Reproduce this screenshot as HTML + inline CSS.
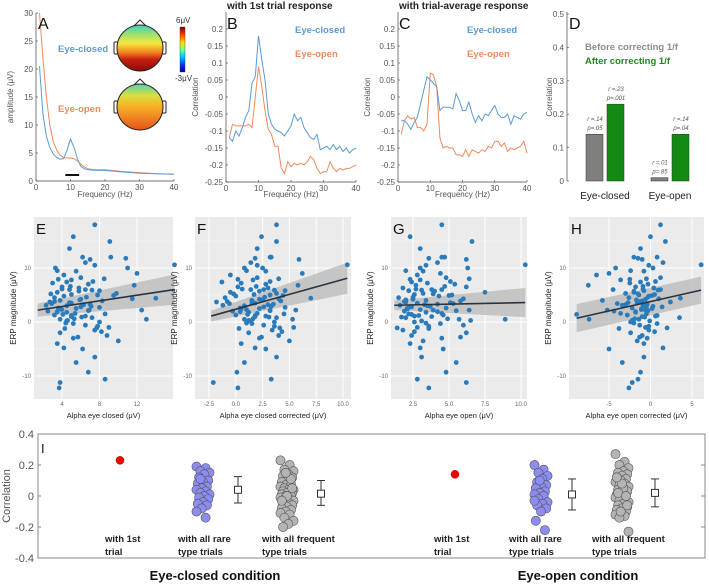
<!DOCTYPE html>
<html><head><meta charset="utf-8">
<style>
html,body{margin:0;padding:0;background:#fff;}
svg{display:block;font-family:"Liberation Sans",Arial,sans-serif;}
.tk{font-size:8px;fill:#555;}
.sm{font-size:6px;fill:#555;}
.bold{font-weight:bold;}
</style></head>
<body>
<svg id="fig" width="709" height="584" viewBox="0 0 709 584" xmlns="http://www.w3.org/2000/svg">
<defs>
<linearGradient id="topo1" x1="0" y1="0" x2="0" y2="1">
<stop offset="0" stop-color="#3fd0c0"/><stop offset="0.2" stop-color="#9be070"/><stop offset="0.4" stop-color="#f6e93a"/><stop offset="0.6" stop-color="#f08020"/><stop offset="0.75" stop-color="#c81e10"/><stop offset="1" stop-color="#8a0a08"/>
</linearGradient>
<linearGradient id="topo2" x1="0" y1="0" x2="0" y2="1">
<stop offset="0" stop-color="#55d0b0"/><stop offset="0.25" stop-color="#d8e040"/><stop offset="0.45" stop-color="#f5b828"/><stop offset="0.7" stop-color="#f08a22"/><stop offset="1" stop-color="#e85018"/>
</linearGradient>
<linearGradient id="jet" x1="0" y1="1" x2="0" y2="0">
<stop offset="0" stop-color="#00008f"/><stop offset="0.15" stop-color="#0030ff"/><stop offset="0.35" stop-color="#00d0ff"/><stop offset="0.5" stop-color="#80ff80"/><stop offset="0.65" stop-color="#ffe000"/><stop offset="0.85" stop-color="#ff3000"/><stop offset="1" stop-color="#800000"/>
</linearGradient>
</defs>
<g id="root"></g>
</svg>
<script>
// ---------- DATA ----------
const freqA = [1,2,3,4,5,6,7,8,9,10,11,12,13,14,15,17,20,25,30,35,40];
const ampClosed = [20.5,12,8,6,4.8,4.2,3.9,4,5.5,7.5,6,4,2.6,2.2,2,1.9,1.9,1.6,1.4,1.3,1.2];
const ampOpen = [30,22,15,10,7,5.5,4.6,4.2,4.1,4.1,4,3.6,3,2.5,2.2,2,2,1.7,1.5,1.3,1.2];
const ticksA_y = [0,5,10,15,20,25,30];
const ticksFreq = [0,10,20,30,40];
const corrB_closed = [-0.12,-0.13,-0.10,-0.115,-0.09,-0.06,-0.04,0.04,0.06,0.18,0.11,0.05,-0.05,-0.08,-0.095,-0.10,-0.105,-0.115,-0.10,-0.085,-0.05,-0.07,-0.06,-0.09,-0.105,-0.12,-0.125,-0.11,-0.155,-0.15,-0.145,-0.155,-0.14,-0.155,-0.145,-0.16,-0.15,-0.165,-0.155,-0.15];
const corrB_open = [-0.12,-0.08,-0.085,-0.085,-0.085,-0.085,-0.08,-0.09,0.0,0.09,0.03,-0.04,-0.095,-0.11,-0.145,-0.145,-0.21,-0.225,-0.19,-0.205,-0.195,-0.20,-0.195,-0.20,-0.19,-0.175,-0.185,-0.21,-0.225,-0.22,-0.22,-0.19,-0.21,-0.22,-0.21,-0.215,-0.21,-0.21,-0.205,-0.20];
const corrC_closed = [-0.07,-0.07,-0.08,-0.095,-0.075,-0.06,-0.02,0.02,0.06,0.05,0.04,0.03,-0.04,-0.03,-0.03,-0.03,-0.035,0.01,-0.01,-0.04,-0.04,-0.015,-0.05,-0.075,-0.055,-0.07,-0.05,-0.055,-0.04,-0.025,-0.05,-0.06,-0.06,-0.05,-0.08,-0.055,-0.06,-0.065,-0.05,-0.045];
const corrC_open = [-0.11,-0.07,-0.055,-0.065,-0.06,-0.09,-0.09,-0.10,-0.08,0.07,0.065,0.03,-0.12,-0.15,-0.145,-0.15,-0.15,-0.17,-0.17,-0.175,-0.155,-0.175,-0.155,-0.16,-0.165,-0.155,-0.16,-0.145,-0.15,-0.13,-0.13,-0.145,-0.135,-0.16,-0.15,-0.155,-0.15,-0.145,-0.13,-0.165];
const ticksCorr = [0.2,0.15,0.1,0.05,0,-0.05,-0.1,-0.15,-0.2,-0.25];
const barCats = ["Eye-closed","Eye-open"];
const barBefore = [0.14,0.01];
const barAfter = [0.23,0.14];
const barBeforeLbl = [["r =.14","p=.05"],["r =.01","p=.85"]];
const barAfterLbl = [["r =.23","p=.001"],["r =.14","p=.04"]];
const ticksD = [0,0.1,0.2,0.3,0.4,0.5];
const erp = [18,15.8,14.9,13.6,12,12,11.8,11.6,11,10.5,10,10,9.5,9.4,9,8.7,8.2,8,7.8,7.5,7.4,7.2,7,6.8,6.5,6.3,6,6,5.8,5.5,5.3,5.1,5,4.8,4.5,4.3,4.2,4,3.9,3.7,3.5,3.3,3.1,3,2.8,2.6,2.5,2.3,2.1,2,1.8,1.5,1.3,1.1,1,0.8,0.5,0.2,0,-0.3,-0.6,-1,-1.2,-1.5,-2,-2.5,-3,-3.5,-4,-4.8,-5,-6.5,-7.5,-9.3,-10.6,-11.2,-12.2,0.5,2.2,4.4,6.1,5.7,4.9,3.8,3.2,2.7,1.9,1.2,0.3,-0.8,5.2,4.6,3.6,2.9,2.4,1.6,0.9,-0.2,-1.8,-2.8,7.9,6.6,5.9,4.1,3.4,2.2,1.4,0.6,-1.1,10.6];
const alphaE = [7.5,5.2,9.1,4.8,6.2,9.2,10.8,7,6.5,7.5,11,3.3,3.5,5.5,12,4.2,6,8.5,5,7.3,4.5,3,6.8,11.7,4,5.8,4.8,6.5,8,3.5,9.8,5,7.8,4.2,3.2,11.5,6,3.8,8.3,2.7,5,7,2.3,4.5,6,3.6,5.5,4,6.8,2.5,4.5,8.6,3.2,6.5,5,7.2,3.8,4.5,8,5.2,6.5,9,4.3,7.5,3.8,8.8,5.2,10,3.5,4.2,6.2,7.5,5.5,6.8,8.6,3.8,3.7,13,12.5,14,4,5.8,9.5,3.2,6.3,8,3.5,5,4.6,7.8,2.8,6.6,4.8,7.1,3.9,5.4,6.1,4.4,8.2,5.7,3.6,4.9,7.2,5.9,2.9,6.9,4.1,5.3,7.7,16];
const alphaF = [3.8,2.4,3.8,2,3.2,3.3,1.8,5.9,1.4,2,2.5,0.8,1,2.8,6.2,-0.5,2,4,1.6,3.2,-1.3,0.5,2.8,5.8,0.2,3,1.4,2.6,4.6,-0.5,3.8,1.7,3.2,0,-1,4,2.2,1.5,4.2,-1.8,1.8,3.5,-1.2,0.8,2.6,0.4,2.2,1,3.2,-0.3,1.2,4.5,0,2.8,1.8,3.8,0.8,1.4,3.6,1.5,2.6,5.4,0.3,3.4,1.2,4,2.2,5,0.5,1.8,2.8,3.8,0.8,0.1,3.3,-2.1,0.2,5.3,5.6,7,0.6,2.2,4.4,-0.8,3,4.6,0.4,1.8,1.2,3.6,-0.2,2.7,1.5,3.3,0.5,2,3.1,1,4.3,2.4,0.2,1.9,3.6,2.5,-0.6,3.2,1.1,1.6,4.1,10.4];
const alphaG = [4.5,2.3,6.6,3,4.5,4.7,3.6,6.2,4.2,3.4,3,6.3,2,3.2,4.4,2.8,4.8,6.4,3,5.1,2.4,3.5,5.4,2.7,6.2,1.8,3.8,4.5,2.2,7.5,3.2,2.6,5.2,4.3,1.5,6,2.5,3.4,5.8,2,2.8,4.2,1.6,3.5,2.4,4.8,2.1,3,5.5,1.9,3.4,2.2,4.6,2.6,3.8,2,5.7,3.1,2.6,4.4,6,2.8,3.6,1.8,6.2,2.4,4.5,3.2,2.3,3,4.6,3.1,5.5,4.8,2.8,6.2,3.6,8.9,6.4,2.5,2.7,4,5,1.9,3.3,2.2,4.2,2.9,6.5,3.6,3.9,2.5,5.1,3.7,2.1,4.5,1.7,3.4,2.6,5.8,2.3,4.7,3.1,2,5.3,3.9,2.4,4.9,1.4,10.3];
const alphaH = [1.2,0,1.8,-1.2,-2,0.8,-1.5,-1,1.5,-0.2,-4.2,0.3,-2.4,-0.8,-5,-6.5,1.2,-0.5,-3.6,0.6,-1.2,-2.5,-0.3,-7.5,-1.8,0.4,-4.5,1.2,-0.8,-2,-3,0.5,-1.4,-0.2,-2.6,1,-0.6,-5.8,-1,2.4,-1.6,-0.4,-3.4,-0.9,1.4,-2.2,0.2,-1.1,-0.3,-4.4,-1.8,-0.5,-2.8,0.6,-1,3.5,-1.4,-0.1,-2.4,0.8,-1.3,-0.6,-3.8,-0.2,-2.4,-1,-0.4,-1.6,-0.8,1.5,-5,-0.8,-3.4,-1.2,-1.5,-2.2,-2.6,-7.4,-5.2,3.6,-0.9,-2,0.2,-1.4,-3,-0.5,-1.8,0.8,-2.2,-0.2,-1.5,-0.3,-2.7,0.3,-1.1,-3.6,-0.7,-2,0.5,-1.3,-2.5,-0.9,0.9,-1.7,-4,-0.6,-8.9,-1.9,2,6.1];
const fitE = [1.4,16,2.2,6.0,1.2,2.8];   // x0,x1,y0,y1,ci0,ci1
const fitF = [-2.3,10.4,1.1,8.1,1.0,2.9];
const fitG = [1.2,10.3,3.1,3.6,0.9,2.7];
const fitH = [-8.9,6.1,0.7,5.9,2.6,2.5];
const ticksE = [4,8,12], ticksF=[-2.5,0,2.5,5,7.5,10], ticksG=[2.5,5,7.5,10], ticksH=[-5,0,5];
const ticksERP = [10,0,-10];
const iRedClosed = 0.23, iRedOpen = 0.14;
const iRareClosed = [0.19,0.18,0.16,0.15,0.14,0.12,0.1,0.09,0.08,0.06,0.05,0.04,0.03,0.02,0.01,0,-0.01,-0.02,-0.04,-0.05,-0.06,-0.08,-0.1,-0.14,0.11];
const iFreqClosed = [0.23,0.2,0.17,0.16,0.14,0.13,0.12,0.1,0.09,0.08,0.07,0.06,0.06,0.05,0.04,0.04,0.03,0.02,0.02,0.01,0,0,-0.01,-0.02,-0.02,-0.03,-0.04,-0.05,-0.06,-0.07,-0.08,-0.09,-0.1,-0.11,-0.12,-0.14,-0.16,-0.18,-0.2,0.05,0.0,-0.03,0.11,0.15];
const iRareOpen = [0.2,0.17,0.15,0.13,0.11,0.09,0.07,0.06,0.05,0.03,0.02,0.01,0,-0.02,-0.04,-0.05,-0.06,-0.08,-0.1,-0.16,-0.22,0.1,-0.03];
const iFreqOpen = [0.27,0.22,0.2,0.18,0.16,0.15,0.14,0.13,0.12,0.11,0.1,0.09,0.08,0.07,0.06,0.05,0.04,0.03,0.02,0.01,0,0,-0.01,-0.02,-0.03,-0.04,-0.05,-0.06,-0.07,-0.08,-0.09,-0.1,-0.11,-0.12,-0.13,-0.14,-0.23,0.05,0.02,-0.06,0.08,0.12,0.0,-0.1];
const iMeans = [0.04,0.015,0.01,0.02];
const iLo = [-0.045,-0.06,-0.09,-0.07];
const iHi = [0.125,0.10,0.11,0.11];
const ticksI = [0.4,0.2,0,-0.2,-0.4];

// ---------- HELPERS ----------
const NS="http://www.w3.org/2000/svg";
const root=document.getElementById('root');
function mk(tag,attrs,parent,txt){const e=document.createElementNS(NS,tag);for(const k in attrs)e.setAttribute(k,attrs[k]);if(txt!==undefined)e.textContent=txt;(parent||root).appendChild(e);return e;}
function lin(d0,d1,r0,r1){return v=>r0+(v-d0)*(r1-r0)/(d1-d0);}
function fmt(v){if(v===0)return "0";return String(Math.round(v*100)/100);}
function grp(name){const g=mk('g',{},root);return g;}
function txt(parent,x,y,s,attrs,name){const t=mk('text',Object.assign({x:x,y:y},attrs||{}),parent,s);return t;}

function lineAxes(g,X,Y,x0,x1,y0,y1,xt,yt){
  mk('line',{x1:x0,y1:y1,x2:x1,y2:y1,stroke:'#444','stroke-width':0.7},g);
  mk('line',{x1:x0,y1:y0,x2:x0,y2:y1,stroke:'#444','stroke-width':0.7},g);
  xt.forEach(v=>{const x=X(v);mk('line',{x1:x,y1:y1,x2:x,y2:y1-2,stroke:'#444','stroke-width':0.6},g);txt(g,x,y1+9,fmt(v),{class:'tk','text-anchor':'middle'},'x-tick-label');});
  yt.forEach(v=>{const y=Y(v);mk('line',{x1:x0,y1:y,x2:x0+2,y2:y,stroke:'#444','stroke-width':0.6},g);txt(g,x0-3,y+3,fmt(v),{class:'tk','text-anchor':'end'},'y-tick-label');});
}
function poly(g,xs,ys,X,Y,color,name){
  const d=xs.map((x,i)=>(i?'L':'M')+X(x).toFixed(1)+','+Y(ys[i]).toFixed(1)).join(' ');
  const p=mk('path',{d:d,fill:'none',stroke:color,'stroke-width':1},g);
  
}
const BLUE='#5b9bd5',ORANGE='#ee8a5e';

// ---------- PANEL A ----------
(function(){
 const g=grp('panel-a');
 const X=lin(0,40,36,174),Y=lin(0,30,181,13);
 lineAxes(g,X,Y,36,174,13,181,ticksFreq,ticksA_y);
 poly(g,freqA,ampOpen,X,Y,ORANGE,'eye-open-spectrum');
 poly(g,freqA,ampClosed,X,Y,BLUE,'eye-closed-spectrum');
 mk('line',{x1:X(8.5),x2:X(12.5),y1:175,y2:175,stroke:'#111','stroke-width':2},g);
 txt(g,105,197,'Frequency (Hz)',{class:'tk','text-anchor':'middle'},'x-axis-title');
 txt(g,13,97,'amplitude (μV)',{class:'tk','text-anchor':'middle',transform:'rotate(-90 13 97)'},'y-axis-title');
 txt(g,38,29,'A',{'font-size':16,fill:'#111'},'panel-letter');
 txt(g,58,52,'Eye-closed',{'font-size':9.5,'font-weight':'bold',fill:BLUE},'legend-eye-closed');
 txt(g,58,112,'Eye-open',{'font-size':9.5,'font-weight':'bold',fill:ORANGE},'legend-eye-open');
 [[48,'url(#topo1)','topomap-eye-closed'],[107,'url(#topo2)','topomap-eye-open']].forEach(([cy,f,n])=>{
   const h=mk('g',{},g);
   mk('path',{d:`M134,${cy-22} L140,${cy-28} L146,${cy-22}`,fill:'#fff',stroke:'#222','stroke-width':1},h);
   mk('rect',{x:114,y:cy-6,width:4,height:12,rx:1,fill:'#fff',stroke:'#222','stroke-width':1},h);
   mk('rect',{x:162,y:cy-6,width:4,height:12,rx:1,fill:'#fff',stroke:'#222','stroke-width':1},h);
   mk('circle',{cx:140,cy:cy,r:23,fill:f,stroke:'#222','stroke-width':1},h);
 });
 const cb=mk('rect',{x:180,y:27,width:5,height:45,fill:'url(#jet)',stroke:'#333','stroke-width':0.4},g);
 
 txt(g,176,23,'6μV',{'font-size':8,fill:'#333'},'colorbar-max');
 txt(g,175,81,'-3μV',{'font-size':8,fill:'#333'},'colorbar-min');
})();

// ---------- PANELS B & C ----------
function corrPanel(name,x0,x1,title,letter,cl,op){
 const g=grp(name);
 const X=lin(0,40,x0,x1),Y=lin(0.2,-0.25,29,182);
 lineAxes(g,X,Y,x0,x1,12,182,ticksFreq,ticksCorr);
 const fr=cl.map((_,i)=>i+1);
 poly(g,fr,op,X,Y,ORANGE,'eye-open-line');
 poly(g,fr,cl,X,Y,BLUE,'eye-closed-line');
 txt(g,(x0+x1)/2,197,'Frequency (Hz)',{class:'tk','text-anchor':'middle'},'x-axis-title');
 txt(g,x0-28,97,'Correlation',{class:'tk','text-anchor':'middle',transform:`rotate(-90 ${x0-28} 97)`},'y-axis-title');
 txt(g,x0+1,29,letter,{'font-size':16,fill:'#111'},'panel-letter');
 txt(g,x0+69,33,'Eye-closed',{'font-size':9.5,'font-weight':'bold',fill:BLUE},'legend-eye-closed');
 txt(g,x0+69,57,'Eye-open',{'font-size':9.5,'font-weight':'bold',fill:ORANGE},'legend-eye-open');
 txt(g,x0+1,9,title,{'font-size':10,'font-weight':'bold',fill:'#222'},'panel-title');
}
corrPanel('panel-b',226,356,'with 1st trial response','B',corrB_closed,corrB_open);
corrPanel('panel-c',398,527,'with trial-average response','C',corrC_closed,corrC_open);

// ---------- PANEL D ----------
(function(){
 const g=grp('panel-d');
 const Y=lin(0,0.5,181,14);
 const AX=567;
 mk('line',{x1:AX,y1:12,x2:AX,y2:181,stroke:'#444','stroke-width':0.7},g);
 ticksD.forEach(v=>{const y=Y(v);mk('line',{x1:AX,y1:y,x2:AX+2,y2:y,stroke:'#444','stroke-width':0.6},g);txt(g,AX-3,y+3,fmt(v),{class:'tk','text-anchor':'end'},'y-tick-label');});
 txt(g,552,97,'Correlation',{class:'tk','text-anchor':'middle',transform:'rotate(-90 552 97)'},'y-axis-title');
 txt(g,AX+2,29,'D',{'font-size':16,fill:'#111'},'panel-letter');
 txt(g,585,50,'Before correcting 1/f',{'font-size':9.5,'font-weight':'bold',fill:'#8c8c8c'},'legend-before');
 txt(g,585,64,'After correcting 1/f',{'font-size':9.5,'font-weight':'bold',fill:'#1a8a1a'},'legend-after');
 const cx=[605,670];
 barCats.forEach((c,i)=>{
   const yb=Y(barBefore[i]),ya=Y(barAfter[i]);
   const b1=mk('rect',{x:cx[i]-19,y:yb,width:17,height:181-yb,fill:'#7f7f7f',stroke:'#333','stroke-width':0.5},g);
   
   const b2=mk('rect',{x:cx[i]+2,y:ya,width:17,height:181-ya,fill:'#138a13',stroke:'#333','stroke-width':0.5},g);
   
   txt(g,cx[i]-10,yb-13,barBeforeLbl[i][0],{class:'sm','text-anchor':'middle','font-style':'italic'},'bar-value');
   txt(g,cx[i]-10,yb-4,barBeforeLbl[i][1],{class:'sm','text-anchor':'middle','font-style':'italic'},'bar-value');
   txt(g,cx[i]+11,ya-13,barAfterLbl[i][0],{class:'sm','text-anchor':'middle','font-style':'italic'},'bar-value');
   txt(g,cx[i]+11,ya-4,barAfterLbl[i][1],{class:'sm','text-anchor':'middle','font-style':'italic'},'bar-value');
   txt(g,cx[i],199,c,{'font-size':10,fill:'#222','text-anchor':'middle'},'x-category-label');
 });
})();

// ---------- SCATTER PANELS ----------
function scatterPanel(name,letter,px0,px1,X,xt,xs,fit,title,tl){
 const g=grp(name);
 const Y=lin(0,10,322,268),top=217,bot=399;
 mk('rect',{x:px0,y:top,width:px1-px0,height:bot-top,fill:'#ebebeb'},g);
 [15,5,-5].forEach(v=>mk('line',{x1:px0,x2:px1,y1:Y(v),y2:Y(v),stroke:'#f6f6f6','stroke-width':0.5},g));
 ticksERP.forEach(v=>mk('line',{x1:px0,x2:px1,y1:Y(v),y2:Y(v),stroke:'#fff','stroke-width':1},g));
 xt.forEach(v=>mk('line',{x1:X(v),x2:X(v),y1:top,y2:bot,stroke:'#fff','stroke-width':1},g));
 const [fx0,fx1,fy0,fy1,c0,c1]=fit;
 const ci=mk('path',{d:`M${X(fx0)},${Y(fy0+c0)} L${X(fx1)},${Y(fy1+c1)} L${X(fx1)},${Y(fy1-c1)} L${X(fx0)},${Y(fy0-c0)} Z`,fill:'#b8b8b8','fill-opacity':0.75},g);
 
 const n=Math.min(xs.length,erp.length);
 for(let i=0;i<n;i++){
   const c=mk('circle',{cx:X(xs[i]).toFixed(1),cy:Y(erp[i]).toFixed(1),r:2.4,fill:'#2b7bba'},g);
   
   
 }
 const fl=mk('line',{x1:X(fx0),y1:Y(fy0),x2:X(fx1),y2:Y(fy1),stroke:'#2a3440','stroke-width':1.6},g);
 
 xt.forEach(v=>txt(g,X(v),406,tl?v.toFixed(1):String(v),{'font-size':6,fill:'#666','text-anchor':'middle'},'x-tick-label'));
 ticksERP.forEach(v=>txt(g,px0-3,Y(v)+2,String(v),{'font-size':6,fill:'#666','text-anchor':'end'},'y-tick-label'));
 txt(g,(px0+px1)/2,418,title,{'font-size':7.5,fill:'#222','text-anchor':'middle'},'x-axis-title');
 txt(g,px0-18,308,'ERP magnitude (μV)',{'font-size':8,fill:'#222','text-anchor':'middle',transform:`rotate(-90 ${px0-18} 308)`},'y-axis-title');
 txt(g,px0+2,234,letter,{'font-size':15,fill:'#111'},'panel-letter');
}
scatterPanel('panel-e','E',34,173,lin(4,12,62,137),ticksE,alphaE,fitE,'Alpha eye closed (μV)',false);
scatterPanel('panel-f','F',195,351,lin(-2.5,10,209,343),ticksF,alphaF,fitF,'Alpha eye closed corrected (μV)',true);
scatterPanel('panel-g','G',391,527,lin(2.5,10,413,521),ticksG,alphaG,fitG,'Alpha eye open (μV)',true);
scatterPanel('panel-h','H',569,704,lin(-5,5,609,692),ticksH,alphaH,fitH,'Alpha eye open corrected (μV)',false);

// ---------- PANEL I ----------
(function(){
 const g=grp('panel-i');
 const Y=lin(0,0.2,496,465);
 const b=mk('rect',{x:38,y:Y(0.4),width:667,height:Y(-0.4)-Y(0.4),fill:'none',stroke:'#888','stroke-width':1},g);
 
 ticksI.forEach(v=>{const y=Y(v);
   mk('line',{x1:38,x2:41,y1:y,y2:y,stroke:'#888'},g);mk('line',{x1:705,x2:701,y1:y,y2:y,stroke:'#888'},g);
   txt(g,34,y+4,v===0?'0':v.toFixed(1),{'font-size':11,fill:'#555','text-anchor':'end'},'y-tick-label');});
 txt(g,10,496,'Correlation',{'font-size':11,fill:'#555','text-anchor':'middle',transform:'rotate(-90 10 496)'},'y-axis-title');
 txt(g,41,453,'I',{'font-size':13,fill:'#111'},'panel-letter');
 function cluster(vals,cx,fill,name){
   vals.forEach((v,i)=>{
     const c=mk('circle',{cx:cx+((i*7)%11-5)*1.3,cy:Y(v),r:4.6,fill:fill,stroke:'#555','stroke-width':0.6},g);
     
     
   });
 }
 function err(i,cx){
   const yl=Y(iLo[i]),yh=Y(iHi[i]),ym=Y(iMeans[i]);
   const e=mk('g',{},g);
   mk('line',{x1:cx,x2:cx,y1:yh,y2:ym-3.5,stroke:'#333'},e);mk('line',{x1:cx,x2:cx,y1:ym+3.5,y2:yl,stroke:'#333'},e);
   mk('line',{x1:cx-4,x2:cx+4,y1:yh,y2:yh,stroke:'#333'},e);mk('line',{x1:cx-4,x2:cx+4,y1:yl,y2:yl,stroke:'#333'},e);
   mk('rect',{x:cx-3.5,y:ym-3.5,width:7,height:7,fill:'#fff',stroke:'#333'},e);
 }
 const rc=mk('circle',{cx:120,cy:Y(iRedClosed),r:4,fill:'#e00',stroke:'#900','stroke-width':0.5},g);
 
 const ro=mk('circle',{cx:455,cy:Y(iRedOpen),r:4,fill:'#e00',stroke:'#900','stroke-width':0.5},g);
 
 cluster(iRareClosed,203,'#8c8cf2','rare-point-eye-closed');
 cluster(iFreqClosed,287,'#b4b4b4','frequent-point-eye-closed');
 cluster(iRareOpen,541,'#8c8cf2','rare-point-eye-open');
 cluster(iFreqOpen,622,'#b4b4b4','frequent-point-eye-open');
 err(0,238);err(1,321);err(2,572);err(3,655);
 const L=[[105,'with 1st','trial'],[178,'with all rare','type trials'],[262,'with all frequent','type trials'],[434,'with 1st','trial'],[509,'with all rare','type trials'],[592,'with all frequent','type trials']];
 L.forEach(([x,a,b])=>{txt(g,x,542,a,{'font-size':9.5,'font-weight':'bold',fill:'#222'},'group-label');txt(g,x,555,b,{'font-size':9.5,'font-weight':'bold',fill:'#222'},'group-label');});
 txt(g,215,580,'Eye-closed condition',{'font-size':13,'font-weight':'bold',fill:'#111','text-anchor':'middle'},'condition-label');
 txt(g,578,580,'Eye-open condition',{'font-size':13,'font-weight':'bold',fill:'#111','text-anchor':'middle'},'condition-label');
})();
</script>
</body></html>
